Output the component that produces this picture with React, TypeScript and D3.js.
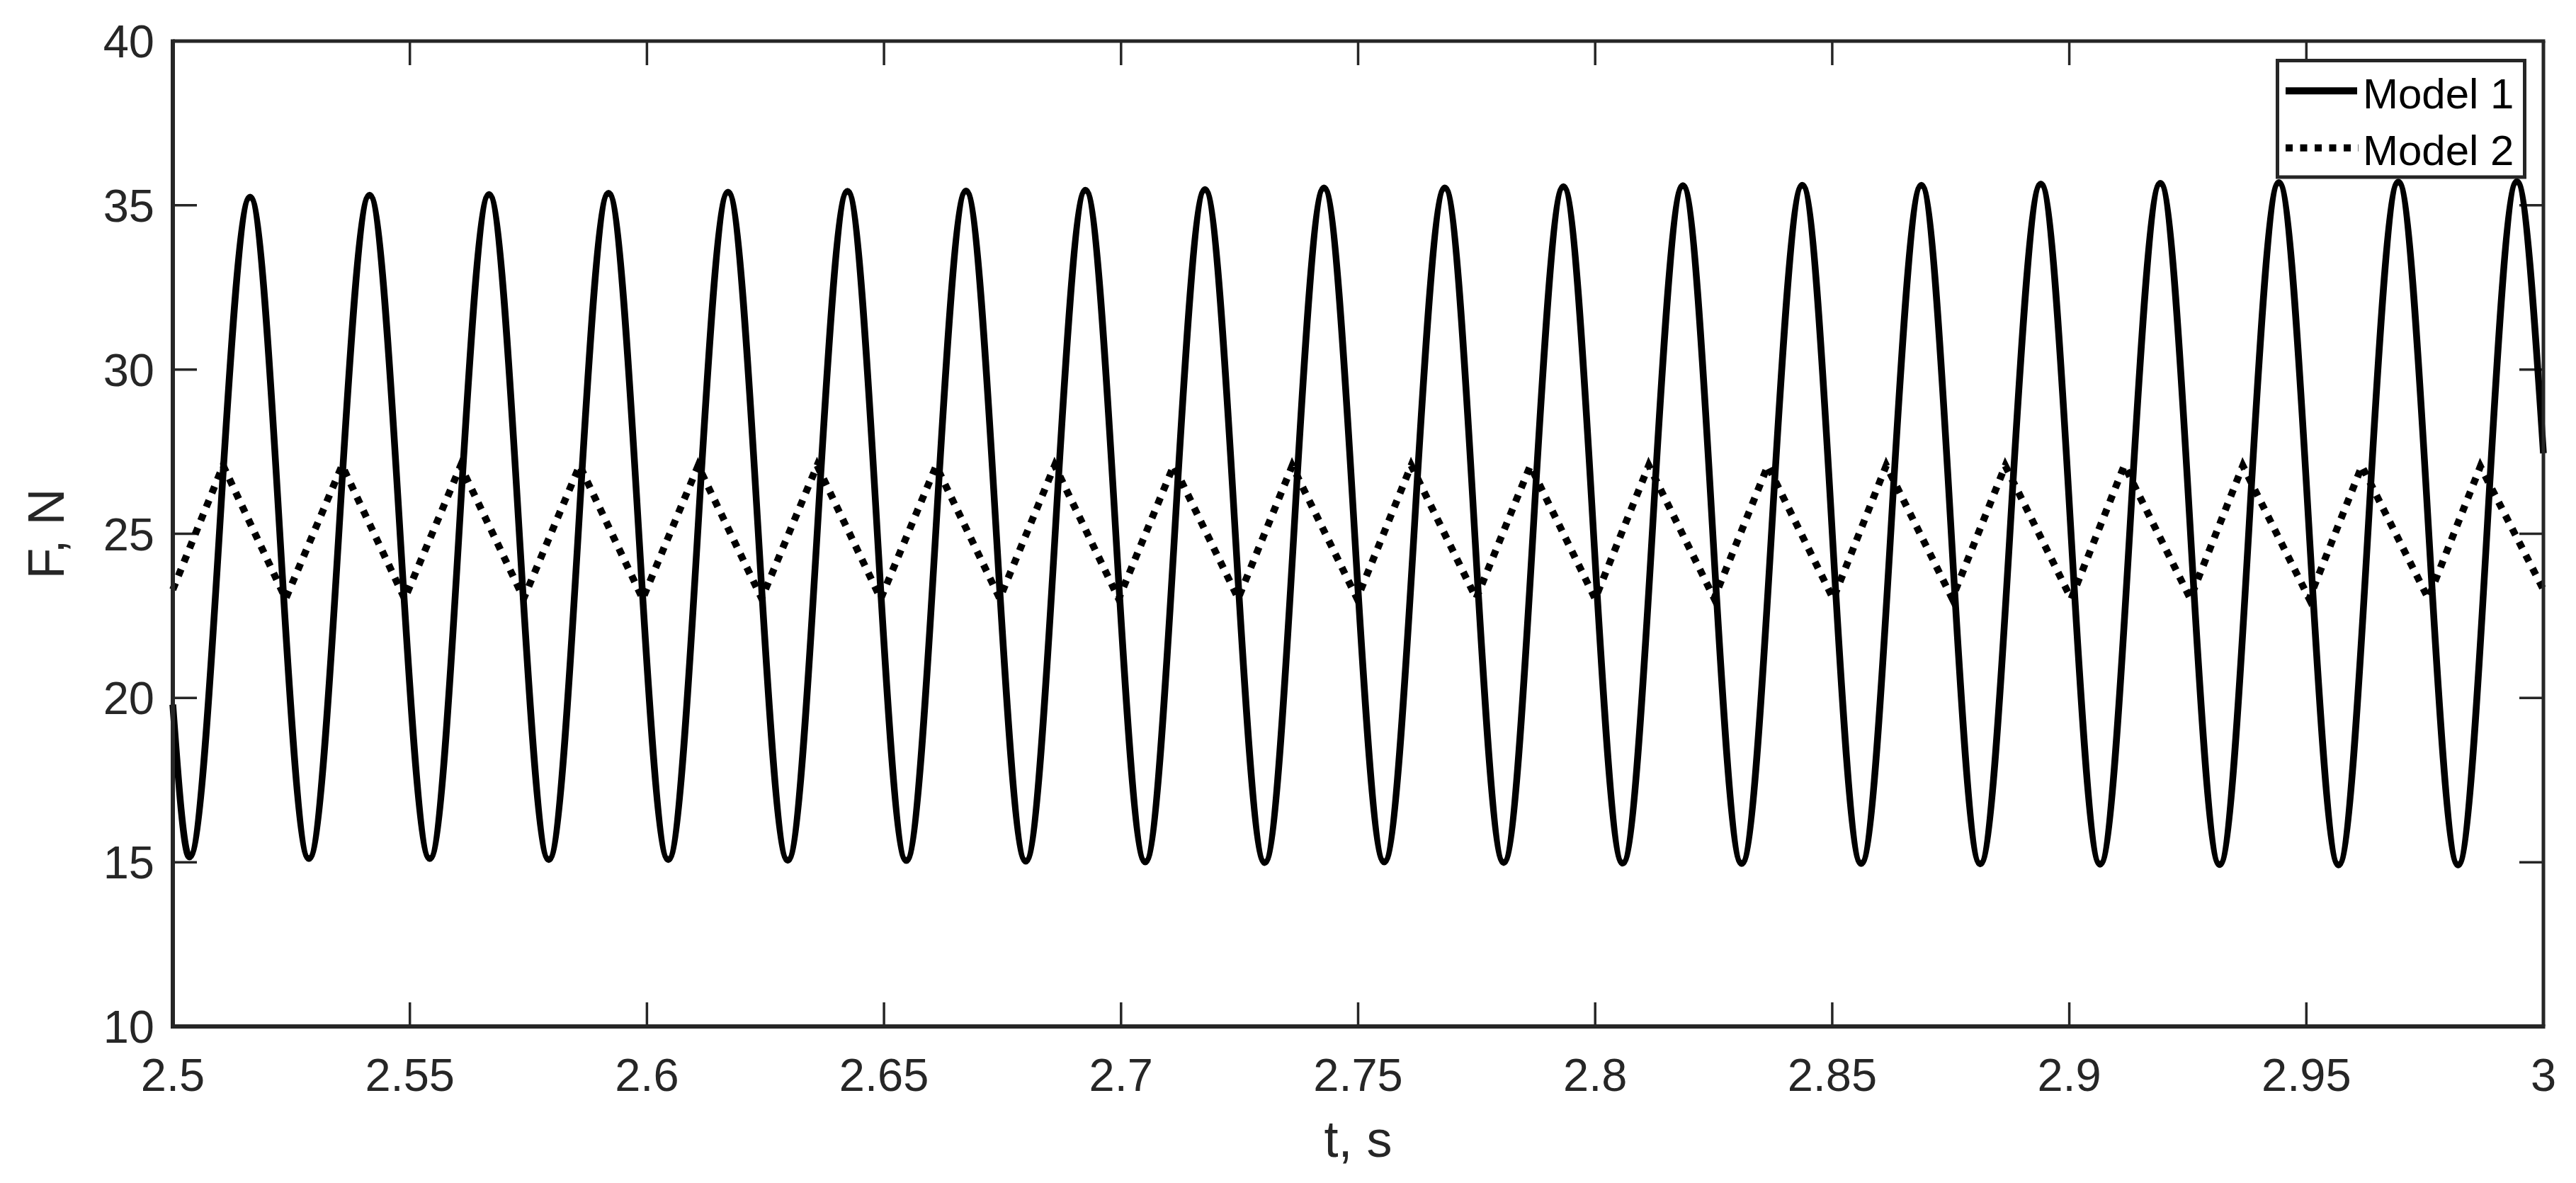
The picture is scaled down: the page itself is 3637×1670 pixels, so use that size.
import React from 'react';
import * as d3 from 'd3';

const width = 3637;
const height = 1670;
const plot = { left: 244, right: 3591, top: 58, bottom: 1449 };

const axisColor = '#262626';
const font = "'Liberation Sans', Arial, Helvetica, sans-serif";

// axis ticks
const xTicks = [2.5, 2.55, 2.6, 2.65, 2.7, 2.75, 2.8, 2.85, 2.9, 2.95, 3];
const xTickLabels = ['2.5', '2.55', '2.6', '2.65', '2.7', '2.75', '2.8', '2.85', '2.9', '2.95', '3'];
const yTicks = [10, 15, 20, 25, 30, 35, 40];
const yTickLabels = ['10', '15', '20', '25', '30', '35', '40'];

// Model 1 (solid): ends of the trace, crests and troughs
const model1EndT = [2.5, 3.0];
const model1EndF = [19.8, 27.45];
const model1PeakT = [2.5163, 2.5415, 2.5667, 2.5919, 2.6171, 2.6423, 2.6673, 2.6925, 2.7177, 2.7428,
    2.7683, 2.7933, 2.8185, 2.8437, 2.8688, 2.894, 2.9192, 2.9442, 2.9694, 2.9944];
const model1PeakF = [35.25, 35.31, 35.33, 35.37, 35.4, 35.43, 35.44, 35.46, 35.48, 35.53,
    35.53, 35.57, 35.6, 35.61, 35.61, 35.65, 35.67, 35.69, 35.71, 35.72];
const model1TroughT = [2.5035, 2.5287, 2.5542, 2.5793, 2.6045, 2.6297, 2.6547, 2.6799, 2.7051, 2.7303,
    2.7555, 2.7807, 2.8058, 2.8309, 2.8561, 2.8812, 2.9065, 2.9317, 2.9568, 2.982];
const model1TroughF = [15.16, 15.11, 15.11, 15.08, 15.08, 15.06, 15.05, 15.03, 15.01, 14.99,
    15.01, 14.99, 14.97, 14.96, 14.96, 14.95, 14.94, 14.93, 14.92, 14.92];

// Model 2 (dotted)
const model2EndT = [2.5, 3.0];
const model2EndF = [23.3, 23.3];
const model2PeakT = [2.5106, 2.5357, 2.5607, 2.5858, 2.6108, 2.6359, 2.661, 2.686, 2.7111, 2.7361,
    2.7612, 2.7863, 2.8113, 2.8364, 2.8614, 2.8865, 2.9116, 2.9366, 2.9617, 2.9867];
const model2PeakF = [27.08, 27.08, 27.07, 27.08, 27.07, 27.08, 27.07, 27.08, 27.08, 27.07,
    27.08, 27.07, 27.08, 27.07, 27.08, 27.07, 27.08, 27.07, 27.06, 27.05];
const model2TroughT = [2.5238, 2.5489, 2.574, 2.5991, 2.6242, 2.6493, 2.6744, 2.6995, 2.7247, 2.7498,
    2.7749, 2.8, 2.8251, 2.8502, 2.8753, 2.9004, 2.9255, 2.9506, 2.9757];
const model2TroughF = [23.02, 23.02, 23.03, 23.02, 23.03, 23.02, 23.03, 23.02, 23.03, 23.02,
    23.03, 23.02, 23.03, 23.02, 23.03, 23.02, 23.03, 23.02, 23.03];

const legendNames = ['Model 1', 'Model 2'];

type Pt = { t: number; f: number };

const toPoints = (ts: number[], fs: number[]): Pt[] => ts.map((t, i) => ({ t, f: fs[i] }));

const model1: Pt[] = [
    ...toPoints(model1EndT, model1EndF),
    ...toPoints(model1PeakT, model1PeakF),
    ...toPoints(model1TroughT, model1TroughF),
].sort((a, b) => a.t - b.t);

const model2: Pt[] = [
    ...toPoints(model2EndT, model2EndF),
    ...toPoints(model2PeakT, model2PeakF),
    ...toPoints(model2TroughT, model2TroughF),
].sort((a, b) => a.t - b.t);

const xScale = d3.scaleLinear().domain([2.5, 3]).range([plot.left, plot.right]);
const yScale = d3.scaleLinear().domain([10, 40]).range([plot.bottom, plot.top]);

const smoothLine = d3.line<Pt>().x(d => xScale(d.t)).y(d => yScale(d.f)).curve(d3.curveMonotoneX);
const straightLine = d3.line<Pt>().x(d => xScale(d.t)).y(d => yScale(d.f)).curve(d3.curveLinear);

const tickLen = 34;

export default function App() {
    const legend = { x: 3215.5, y: 85.5, w: 349, h: 164.5 };

    return (
        <svg width={width} height={height} style={{ position: 'absolute', left: 0, top: 0, display: 'block', background: '#fff' }}>
            <rect x={0} y={0} width={width} height={height} fill="#fff" />

            {/* ticks, inward on all four sides */}
            <g stroke={axisColor} strokeWidth={3.5}>
                {xTicks.map((t, i) => (
                    <g key={'xt' + i}>
                        <line x1={xScale(t)} x2={xScale(t)} y1={plot.bottom} y2={plot.bottom - tickLen} />
                        <line x1={xScale(t)} x2={xScale(t)} y1={plot.top} y2={plot.top + tickLen} />
                    </g>
                ))}
                {yTicks.map((v, i) => (
                    <g key={'yt' + i}>
                        <line x1={plot.left} x2={plot.left + tickLen} y1={yScale(v)} y2={yScale(v)} />
                        <line x1={plot.right} x2={plot.right - tickLen} y1={yScale(v)} y2={yScale(v)} />
                    </g>
                ))}
            </g>

            {/* data */}
            <path d={straightLine(model2) || ''} fill="none" stroke="#000" strokeWidth={10}
                strokeDasharray="10 11" strokeLinecap="butt" strokeLinejoin="miter" />
            <path d={smoothLine(model1) || ''} fill="none" stroke="#000" strokeWidth={9.5}
                strokeLinejoin="round" />

            {/* box */}
            <g stroke={axisColor} fill="none">
                <line x1={plot.left} x2={plot.right + 2.5} y1={plot.top} y2={plot.top} strokeWidth={5} />
                <line x1={plot.right} x2={plot.right} y1={plot.top} y2={plot.bottom} strokeWidth={5} />
                <line x1={plot.left - 3} x2={plot.right + 2.5} y1={plot.bottom} y2={plot.bottom} strokeWidth={6} />
                <line x1={plot.left} x2={plot.left} y1={plot.top - 2.5} y2={plot.bottom + 3} strokeWidth={6} />
            </g>

            {/* tick labels */}
            <g fontFamily={font} fontSize={65} fill={axisColor}>
                {xTicks.map((t, i) => (
                    <text key={'xl' + i} x={xScale(t)} y={1540} textAnchor="middle">{xTickLabels[i]}</text>
                ))}
                {yTicks.map((v, i) => (
                    <text key={'yl' + i} x={218} y={yScale(v) + 23} textAnchor="end">{yTickLabels[i]}</text>
                ))}
            </g>

            {/* axis titles */}
            <text x={(plot.left + plot.right) / 2} y={1633} textAnchor="middle" fontFamily={font}
                fontSize={72} fill={axisColor}>t, s</text>
            <text transform={`translate(90, ${(plot.top + plot.bottom) / 2}) rotate(-90)`} textAnchor="middle"
                fontFamily={font} fontSize={72} fill={axisColor}>F, N</text>

            {/* legend */}
            <g>
                <rect x={legend.x} y={legend.y} width={legend.w} height={legend.h} fill="#fff"
                    stroke={axisColor} strokeWidth={5} />
                <line x1={3227} x2={3328} y1={128.3} y2={128.3} stroke="#000" strokeWidth={10} />
                <line x1={3227} x2={3330} y1={208.7} y2={208.7} stroke="#000" strokeWidth={10}
                    strokeDasharray="10 10.5" />
                <text x={3336} y={153.3} fontFamily={font} fontSize={60} fill="#000">{legendNames[0]}</text>
                <text x={3336} y={232.7} fontFamily={font} fontSize={60} fill="#000">{legendNames[1]}</text>
            </g>
        </svg>
    );
}
